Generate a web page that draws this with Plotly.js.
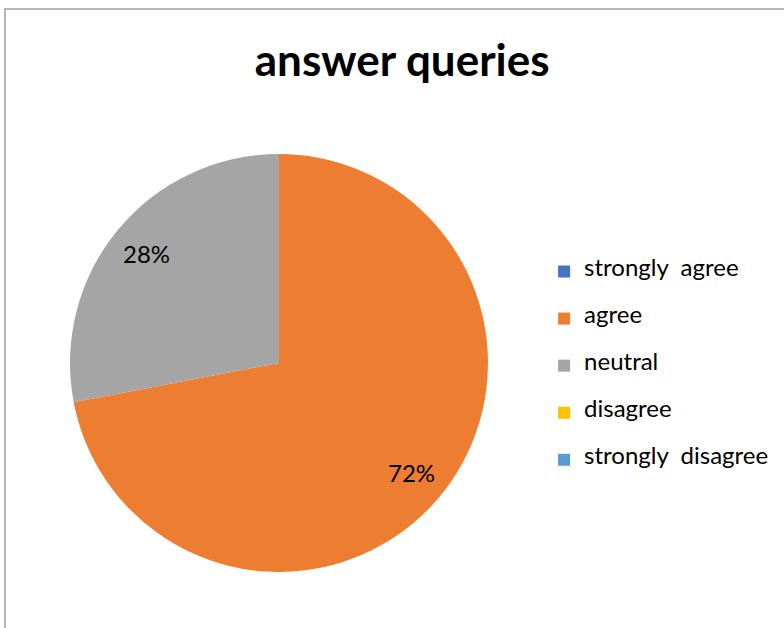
<!DOCTYPE html>
<html>
<head>
<meta charset="utf-8">
<script src="https://cdn.plot.ly/plotly-3.0.1.min.js"></script>
<style>
  html, body { margin: 0; padding: 0; background: #ffffff; }
  #chart { width: 784px; height: 628px; }
</style>
</head>
<body>
<div id="chart"></div>
<script>
// ---- data ----
const chartTitle = "answer queries";
const categories = ["strongly  agree", "agree", "neutral", "disagree", "strongly  disagree"];
const shares = [0, 72, 28, 0, 0];
const sliceColors = ["#4472C4", "#ED7D31", "#A5A5A5", "#FFC000", "#5B9BD5"];

// legend labels: padded with empty lines to reproduce the wide legend row spacing
const legendLabels = categories.map(c =>
  "\u00a0<br><span style=\"font-size:24px\">" + c + "</span><br>\u00a0");

const FONT = "Lato, 'Open Sans', 'Liberation Sans', sans-serif";
const W = 784, H = 628;
const pieDomain = { x: [0.0893, 0.6224], y: [0.0892, 0.7548] };

const trace = {
  type: "pie",
  labels: legendLabels,
  values: shares,
  sort: false,
  direction: "clockwise",
  rotation: 0,
  marker: { colors: sliceColors, line: { width: 0 } },
  textinfo: "none",
  hoverinfo: "label+percent",
  domain: pieDomain,
  showlegend: true
};

// percentage labels placed at each slice's mid-angle (Excel-style, ~0.82 of the radius)
const total = shares.reduce((a, b) => a + b, 0);
const cxP = (pieDomain.x[0] + pieDomain.x[1]) / 2;
const cyP = (pieDomain.y[0] + pieDomain.y[1]) / 2;
const radiusPx = Math.min((pieDomain.x[1] - pieDomain.x[0]) * W, (pieDomain.y[1] - pieDomain.y[0]) * H) / 2;
const annotations = [];
let cum = 0;
shares.forEach(v => {
  if (v > 0) {
    const mid = (cum + v / 2) / total * 2 * Math.PI;
    const r = 0.82 * radiusPx;
    annotations.push({
      xref: "paper", yref: "paper",
      x: cxP + r * Math.sin(mid) / W,
      y: cyP + r * Math.cos(mid) / H,
      text: Math.round(v / total * 100) + "%",
      showarrow: false,
      xanchor: "center", yanchor: "middle",
      font: { family: FONT, size: 24, color: "#000000" }
    });
  }
  cum += v;
});

const layout = {
  width: W,
  height: H,
  margin: { l: 0, r: 0, t: 0, b: 0 },
  paper_bgcolor: "#ffffff",
  font: { family: FONT, color: "#000000" },
  title: {
    text: "<b>" + chartTitle + "</b>",
    font: { family: FONT, size: 44, color: "#000000" },
    x: 0.513, xanchor: "center",
    y: 0.903, yanchor: "middle"
  },
  showlegend: true,
  legend: {
    x: 0.694, xanchor: "left",
    y: 0.4228 - 3.5 / H, yanchor: "middle",
    font: { family: FONT, size: 11.3, color: "#000000" },
    bgcolor: "rgba(0,0,0,0)",
    traceorder: "normal"
  },
  annotations: annotations,
  shapes: [{
    type: "rect", xref: "paper", yref: "paper",
    x0: 5 / W, x1: 1.02, y0: -0.02, y1: (H - 9) / H,
    line: { color: "#a0a0a0", width: 1.5 },
    fillcolor: "rgba(0,0,0,0)"
  }]
};

Plotly.newPlot("chart", [trace], layout, { displayModeBar: false, staticPlot: true });
</script>
</body>
</html>
